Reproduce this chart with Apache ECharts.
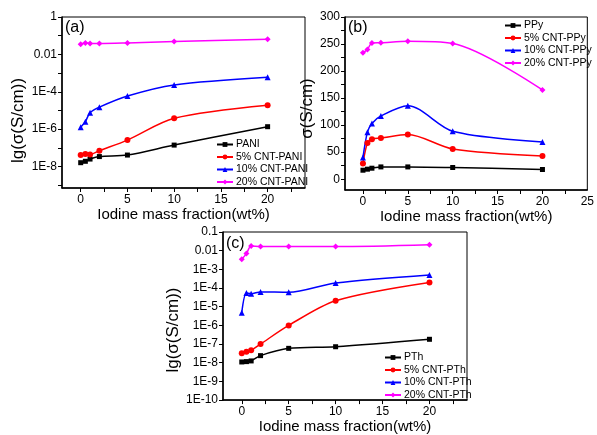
<!DOCTYPE html>
<html lang="en">
<head>
    <meta charset="UTF-8">
    <title>Iodine doped CNT composites</title>
    <script src="https://cdn.jsdelivr.net/npm/echarts@6/dist/echarts.min.js"></script>
    <style>
        html, body { margin: 0; padding: 0; background: #fff; }
        #chart { width: 597px; height: 435px; }
    </style>
</head>
<body>
    <div id="chart"></div>

    <script>
        // iodine mass fraction (wt%) shared by all panels
        var iodine = [0, 0.5, 1, 2, 5, 10, 20];

        // (a) PANI, conductivity S/cm
        var namesA = ['PANI', '5% CNT-PANI', '10% CNT-PANI', '20% CNT-PANI'];
        var pani   = [1.6e-8, 1.9e-8, 2.5e-8, 3.4e-8, 4.1e-8, 1.4e-7, 1.35e-6];
        var pani5  = [4.1e-8, 4.6e-8, 4.4e-8, 7e-8, 2.6e-7, 3.8e-6, 1.9e-5];
        var pani10 = [1.26e-6, 2.5e-6, 7.6e-6, 1.5e-5, 5.9e-5, 2.3e-4, 5.9e-4];
        var pani20 = [0.035, 0.041, 0.038, 0.038, 0.041, 0.049, 0.065];

        // (b) PPy, conductivity S/cm (linear)
        var namesB = ['PPy', '5% CNT-PPy', '10% CNT-PPy', '20% CNT-PPy'];
        var ppy   = [16.6, 18.5, 20.3, 22.7, 22.7, 21.6, 17.9];
        var ppy5  = [29, 67, 74, 76, 82.6, 56, 43];
        var ppy10 = [40, 87, 103, 117, 136, 88.7, 69];
        var ppy20 = [234, 240, 252, 252.5, 255, 251, 165];

        // (c) PTh, conductivity S/cm
        var namesC = ['PTh', '5% CNT-PTh', '10% CNT-PTh', '20% CNT-PTh'];
        var pth   = [1.1e-8, 1.15e-8, 1.25e-8, 2.4e-8, 5.9e-8, 7.2e-8, 1.8e-7];
        var pth5  = [3.2e-8, 3.9e-8, 4.6e-8, 1e-7, 1e-6, 2.1e-5, 2e-4];
        var pth10 = [4.8e-6, 5.4e-5, 5e-5, 6.2e-5, 5.9e-5, 1.85e-4, 5e-4];
        var pth20 = [3.5e-3, 7e-3, 0.0178, 0.0167, 0.0167, 0.0167, 0.021];

        // tick labels
        var xTicksAC = [0, 5, 10, 15, 20];
        var xTicksB = [0, 5, 10, 15, 20, 25];
        var yTicksA = [0, -2, -4, -6, -8];
        var yLabelsA = ['1', '0.01', '1E-4', '1E-6', '1E-8'];
        var yTicksB = [0, 50, 100, 150, 200, 250, 300];
        var yTicksC = [-1, -2, -3, -4, -5, -6, -7, -8, -9, -10];
        var yLabelsC = ['0.1', '0.01', '1E-3', '1E-4', '1E-5', '1E-6', '1E-7', '1E-8', '1E-9', '1E-10'];

        var colors = ['#000000', '#ff0000', '#0000ff', '#ff00ff'];
        var symbols = ['rect', 'circle', 'triangle', 'diamond'];
        var font = "'Liberation Sans', Arial, sans-serif";

        function steps(from, to, step) {
            var out = [];
            for (var v = from; v <= to + 1e-9; v += step) out.push(v);
            return out;
        }

        function makeSeries(names, sets, gi, useLog) {
            return sets.map(function (ys, k) {
                return {
                    name: names[k],
                    type: 'line',
                    xAxisIndex: gi,
                    yAxisIndex: gi,
                    smooth: 0.3,
                    symbol: symbols[k],
                    symbolSize: k === 0 ? 5 : 6,
                    itemStyle: { color: colors[k] },
                    lineStyle: { color: colors[k], width: 1.5 },
                    data: iodine.map(function (x, i) {
                        return [x, useLog ? Math.log10(ys[i]) : ys[i]];
                    })
                };
            });
        }

        function xAxisCfg(gi, max, labels) {
            return {
                type: 'value', gridIndex: gi, min: -2, max: max,
                name: 'Iodine mass fraction(wt%)', nameLocation: 'middle', nameGap: 17,
                nameTextStyle: { fontSize: 15, color: '#000', fontFamily: font },
                axisLine: { onZero: false, lineStyle: { color: '#000', width: 1.5 } },
                axisTick: { length: 4, customValues: steps(0, max - 1, 2.5), lineStyle: { color: '#000' } },
                axisLabel: { customValues: labels, fontSize: 12, color: '#000', margin: 6, fontFamily: font },
                splitLine: { show: false }
            };
        }

        // shift: extra padding at the end of the rotated name, moves it down the axis
        function yAxisCfg(gi, min, max, ticks, tickMarks, labelFn, name, gap, shift) {
            return {
                type: 'value', gridIndex: gi, min: min, max: max,
                name: name, nameLocation: 'middle', nameGap: gap,
                nameTextStyle: { fontSize: 17, color: '#000', fontFamily: font, padding: [0, shift, 0, 0] },
                axisLine: { onZero: false, lineStyle: { color: '#000', width: 1.5 } },
                axisTick: { length: 4, customValues: tickMarks, lineStyle: { color: '#000' } },
                axisLabel: { customValues: ticks, formatter: labelFn, fontSize: 12, color: '#000', margin: 5, fontFamily: font },
                splitLine: { show: false }
            };
        }

        function legendCfg(names, left, top) {
            return {
                data: names, orient: 'vertical', left: left, top: top,
                itemWidth: 16, itemHeight: 6, itemGap: 1.5,
                textStyle: { fontSize: 10.5, color: '#000', fontFamily: font, padding: [0, 0, 0, -2] }
            };
        }

        var chart = echarts.init(document.getElementById('chart'));

        var option = {
            backgroundColor: '#fff',
            animation: false,
            grid: [
                { left: 62, top: 17, width: 243, height: 171, show: true, borderColor: '#000', borderWidth: 1 },
                { left: 345, top: 17, width: 247, height: 173, show: true, borderColor: '#000', borderWidth: 1 },
                { left: 223, top: 232, width: 244, height: 173, show: true, borderColor: '#000', borderWidth: 1 }
            ],
            xAxis: [
                xAxisCfg(0, 24, xTicksAC),
                xAxisCfg(1, 25, xTicksB),
                xAxisCfg(2, 24, xTicksAC)
            ],
            yAxis: [
                yAxisCfg(0, -9.15, 0, yTicksA, steps(-9, 0, 1),
                    function (v) { return yLabelsA[yTicksA.indexOf(v)]; }, 'lg(σ(S/cm))', 35, 36),
                yAxisCfg(1, -20, 300, yTicksB, steps(0, 300, 25),
                    function (v) { return String(v); }, 'σ(S/cm)', 26, 10),
                yAxisCfg(2, -10, -1, yTicksC, yTicksC,
                    function (v) { return yLabelsC[yTicksC.indexOf(v)]; }, 'lg(σ(S/cm))', 40, 28)
            ],
            legend: [
                legendCfg(namesA, 211, 134),
                legendCfg(namesB, 499, 15),
                legendCfg(namesC, 379, 347)
            ],
            graphic: [
                { type: 'text', left: 65, top: 20, style: { text: '(a)', fontSize: 16, fill: '#000', fontFamily: font } },
                { type: 'text', left: 348, top: 20, style: { text: '(b)', fontSize: 16, fill: '#000', fontFamily: font } },
                { type: 'text', left: 226, top: 236, style: { text: '(c)', fontSize: 16, fill: '#000', fontFamily: font } }
            ],
            series: [].concat(
                makeSeries(namesA, [pani, pani5, pani10, pani20], 0, true),
                makeSeries(namesB, [ppy, ppy5, ppy10, ppy20], 1, false),
                makeSeries(namesC, [pth, pth5, pth10, pth20], 2, true)
            )
        };

        chart.setOption(option);
    </script>
</body>
</html>
